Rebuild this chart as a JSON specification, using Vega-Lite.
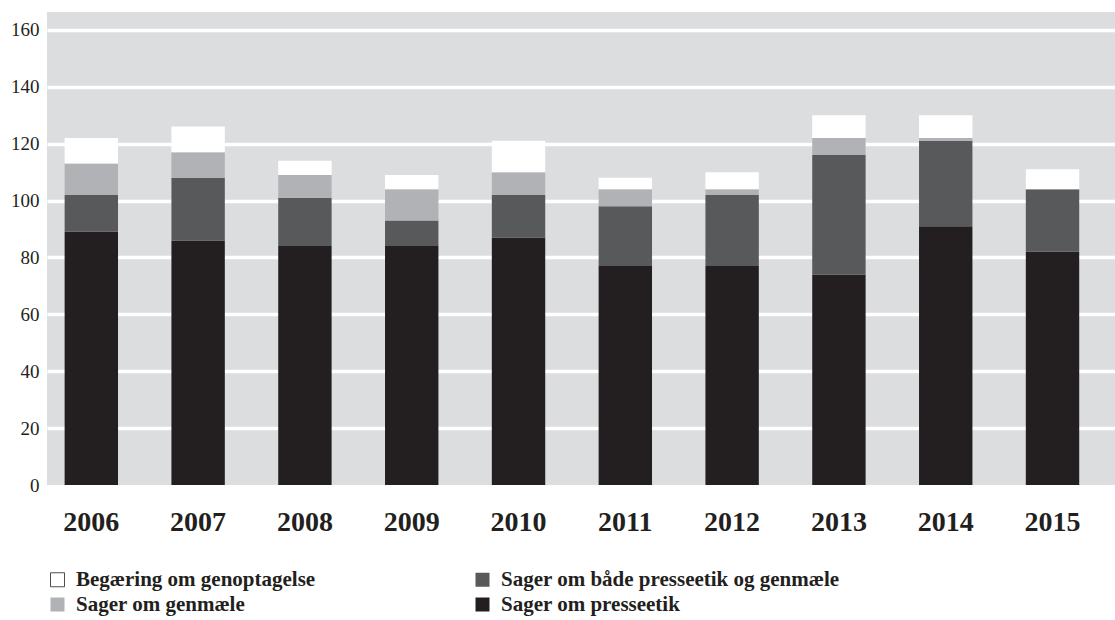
{
  "$schema": "https://vega.github.io/schema/vega-lite/v6.json",
  "width": 1068,
  "height": 473,
  "autosize": {"type": "none"},
  "padding": {"left": 47, "top": 12, "right": 0, "bottom": 135},
  "background": "#ffffff",
  "config": {
    "view": {"fill": "#dcdddf", "stroke": null},
    "font": "Liberation Serif"
  },
  "data": {
    "values": [
      {"year": "2006", "type": "Sager om presseetik", "count": 89},
      {"year": "2006", "type": "Sager om både presseetik og genmæle", "count": 13},
      {"year": "2006", "type": "Sager om genmæle", "count": 11},
      {"year": "2006", "type": "Begæring om genoptagelse", "count": 9},
      {"year": "2007", "type": "Sager om presseetik", "count": 86},
      {"year": "2007", "type": "Sager om både presseetik og genmæle", "count": 22},
      {"year": "2007", "type": "Sager om genmæle", "count": 9},
      {"year": "2007", "type": "Begæring om genoptagelse", "count": 9},
      {"year": "2008", "type": "Sager om presseetik", "count": 84},
      {"year": "2008", "type": "Sager om både presseetik og genmæle", "count": 17},
      {"year": "2008", "type": "Sager om genmæle", "count": 8},
      {"year": "2008", "type": "Begæring om genoptagelse", "count": 5},
      {"year": "2009", "type": "Sager om presseetik", "count": 84},
      {"year": "2009", "type": "Sager om både presseetik og genmæle", "count": 9},
      {"year": "2009", "type": "Sager om genmæle", "count": 11},
      {"year": "2009", "type": "Begæring om genoptagelse", "count": 5},
      {"year": "2010", "type": "Sager om presseetik", "count": 87},
      {"year": "2010", "type": "Sager om både presseetik og genmæle", "count": 15},
      {"year": "2010", "type": "Sager om genmæle", "count": 8},
      {"year": "2010", "type": "Begæring om genoptagelse", "count": 11},
      {"year": "2011", "type": "Sager om presseetik", "count": 77},
      {"year": "2011", "type": "Sager om både presseetik og genmæle", "count": 21},
      {"year": "2011", "type": "Sager om genmæle", "count": 6},
      {"year": "2011", "type": "Begæring om genoptagelse", "count": 4},
      {"year": "2012", "type": "Sager om presseetik", "count": 77},
      {"year": "2012", "type": "Sager om både presseetik og genmæle", "count": 25},
      {"year": "2012", "type": "Sager om genmæle", "count": 2},
      {"year": "2012", "type": "Begæring om genoptagelse", "count": 6},
      {"year": "2013", "type": "Sager om presseetik", "count": 74},
      {"year": "2013", "type": "Sager om både presseetik og genmæle", "count": 42},
      {"year": "2013", "type": "Sager om genmæle", "count": 6},
      {"year": "2013", "type": "Begæring om genoptagelse", "count": 8},
      {"year": "2014", "type": "Sager om presseetik", "count": 91},
      {"year": "2014", "type": "Sager om både presseetik og genmæle", "count": 30},
      {"year": "2014", "type": "Sager om genmæle", "count": 1},
      {"year": "2014", "type": "Begæring om genoptagelse", "count": 8},
      {"year": "2015", "type": "Sager om presseetik", "count": 82},
      {"year": "2015", "type": "Sager om både presseetik og genmæle", "count": 22},
      {"year": "2015", "type": "Sager om genmæle", "count": 0},
      {"year": "2015", "type": "Begæring om genoptagelse", "count": 7}
    ]
  },
  "transform": [
    {"calculate": "indexof(['Sager om presseetik','Sager om både presseetik og genmæle','Sager om genmæle','Begæring om genoptagelse'], datum.type)", "as": "stackorder"}
  ],
  "mark": {"type": "bar"},
  "encoding": {
    "x": {
      "field": "year",
      "type": "nominal",
      "scale": {"paddingInner": 0.5, "paddingOuter": 0.25, "align": 0.33},
      "axis": {
        "title": null,
        "labelAngle": 0,
        "domain": false,
        "ticks": false,
        "labelFont": "Liberation Serif",
        "labelFontWeight": "bold",
        "labelFontSize": 28,
        "labelColor": "#231f20",
        "labelPadding": 23
      }
    },
    "y": {
      "field": "count",
      "type": "quantitative",
      "stack": "zero",
      "scale": {"domain": [0, 166.3], "nice": false},
      "axis": {
        "title": null,
        "values": [0, 20, 40, 60, 80, 100, 120, 140, 160],
        "domain": false,
        "ticks": false,
        "grid": true,
        "gridColor": "#ffffff",
        "gridWidth": 3.5,
        "gridOpacity": {"condition": {"test": "datum.value === 0", "value": 0}, "value": 1},
        "labelFont": "Liberation Serif",
        "labelFontSize": 19,
        "labelColor": "#231f20",
        "labelPadding": 8
      }
    },
    "color": {
      "field": "type",
      "type": "nominal",
      "scale": {
        "domain": ["Begæring om genoptagelse", "Sager om både presseetik og genmæle", "Sager om genmæle", "Sager om presseetik"],
        "range": ["#ffffff", "#58595b", "#b1b2b5", "#231f20"]
      },
      "legend": {
        "title": null,
        "orient": "none",
        "legendX": 0,
        "legendY": 557,
        "direction": "horizontal",
        "columns": 2,
        "columnPadding": 156,
        "rowPadding": 3,
        "padding": 0,
        "symbolType": "square",
        "symbolSize": 196,
        "symbolOpacity": 1,
        "labelFont": "Liberation Serif",
        "labelFontWeight": "bold",
        "labelFontSize": 21,
        "labelColor": "#231f20",
        "labelOffset": 8,
        "labelLimit": 500,
        "encode": {
          "symbols": {
            "update": {
              "stroke": [
                {"test": "datum.value === 'Begæring om genoptagelse'", "value": "#231f20"},
                {"value": null}
              ],
              "strokeWidth": {"value": 0.8}
            }
          }
        }
      }
    },
    "order": {"field": "stackorder", "type": "quantitative"}
  }
}
